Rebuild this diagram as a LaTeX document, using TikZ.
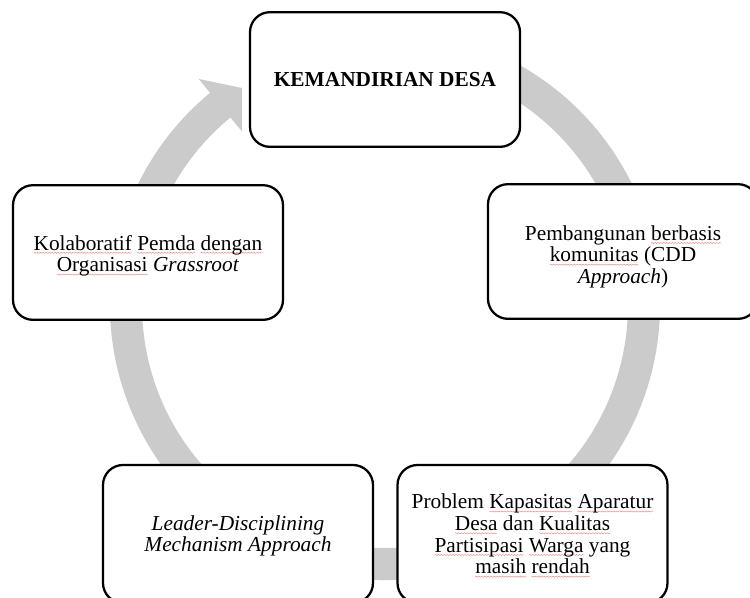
\documentclass[tikz,border=0pt]{standalone}
\usepackage{fontspec}
\setmainfont{Liberation Serif}[ItalicFont={Liberation Serif Italic}, BoldFont={Liberation Serif Bold}]
\usetikzlibrary{positioning, decorations.pathmorphing}
\definecolor{cring}{HTML}{CBCBCB}
\definecolor{cspell}{HTML}{E88A8A}
\newsavebox\sqbox
% red wavy underline of the spell checker
\newcommand\sq[1]{\sbox\sqbox{#1}\leavevmode\rlap{\tikz[overlay, baseline=0pt, x=1pt, y=1pt, sharp corners]
  \draw[cspell, line width=0.35pt, decorate, decoration={snake, amplitude=0.4pt, segment length=2.2pt}]
  (0,-2.1) -- (\the\wd\sqbox,-2.1);}\usebox\sqbox}
% extra room above the first line, text sits lower in its box
\newcommand\drop[1]{\rule{0pt}{#1}}
\tikzset{
  every picture/.style={line width=1.7pt},
  stage/.style={draw=black, fill=white, rounded corners=15pt, align=center, minimum width=202.5pt,
    minimum height=101pt, inner sep=4pt, font=\fontsize{16}{16.3}\selectfont},
  ring/.style={fill=cring, draw=none},
}
\begin{document}
\begin{tikzpicture}[x=0.75pt, y=-0.75pt]
  \useasboundingbox (0,0) rectangle (750,597);
  \clip (0,0) rectangle (750,597);
  % grey cycle arrow
  \begin{scope}[shift={(385,305)}]
    \fill[ring] (-75:275) arc[start angle=-75, end angle=230.5, radius=275] -- (230.5:293) -- (236.6:260)
      -- (230.5:225) -- (230.5:243) arc[start angle=230.5, end angle=-75, radius=243] -- cycle;
  \end{scope}
  \node[stage] (desa) at (385,79.5) {\textbf{KEMANDIRIAN DESA}};
  \node[stage] (cdd) at (623,251.5) {\drop{19pt}Pembangunan \sq{berbasis}\\\sq{komunitas} (CDD\\\textit{Approach})};
  \node[stage, minimum height=103.5pt] (problem) at (532.5,534) {Problem \sq{Kapasitas} \sq{Aparatur}\\\sq{Desa} dan \sq{Kualitas}\\\sq{Partisipasi} \sq{Warga} yang\\\sq{masih} \sq{rendah}};
  \node[stage, minimum height=103.5pt] (leader) at (238,534) {\drop{14pt}\textit{Leader-Disciplining}\\\textit{Mechanism Approach}};
  \node[stage] (kolab) at (148,252.5) {\drop{16pt}\sq{Kolaboratif} \sq{Pemda} \sq{dengan}\\\sq{Organisasi} \textit{Grassroot}};
\end{tikzpicture}
\end{document}
